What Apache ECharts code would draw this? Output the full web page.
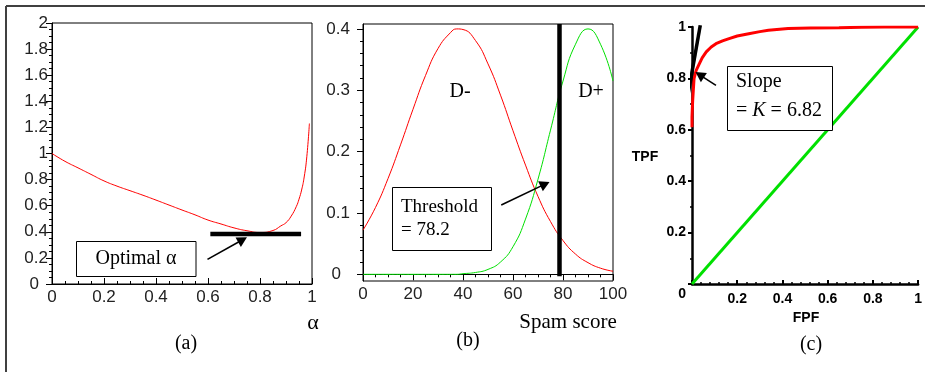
<!DOCTYPE html>
<html>
<head>
<meta charset="utf-8">
<script src="https://cdn.jsdelivr.net/npm/echarts@6/dist/echarts.min.js"></script>
<style>
  html, body { margin: 0; padding: 0; background: #fff; }
  #chart { width: 925px; height: 372px; }
</style>
</head>
<body>
<div id="chart"></div>
<script>
// panel (a): objective vs alpha
const alphaX = [0, 0.05, 0.1, 0.15, 0.2, 0.25, 0.3, 0.35, 0.4, 0.45, 0.5, 0.55, 0.6, 0.65, 0.7, 0.75, 0.8, 0.85, 0.88, 0.9, 0.92, 0.94, 0.95, 0.96, 0.97, 0.98, 0.99];
const alphaY = [1.0, 0.94, 0.89, 0.84, 0.79, 0.75, 0.715, 0.68, 0.643, 0.605, 0.567, 0.53, 0.49, 0.46, 0.43, 0.408, 0.395, 0.41, 0.445, 0.47, 0.52, 0.595, 0.65, 0.72, 0.82, 0.975, 1.23];
const optimalBar = [[0.609, 0.383], [0.958, 0.383]];
const optimalArrow = [[0.598, 0.189], [0.733, 0.339]];

// panel (b): score distributions
const scoreX = [0, 5, 10, 15, 20, 25, 30, 35, 37.5, 40, 45, 50, 55, 60, 65, 70, 75, 80, 85, 90, 95, 100];
const negY = [0.072, 0.109, 0.156, 0.211, 0.269, 0.324, 0.368, 0.394, 0.4, 0.399, 0.381, 0.343, 0.292, 0.234, 0.178, 0.127, 0.086, 0.055, 0.033, 0.019, 0.010, 0.005];
const posY = [0, 0, 0, 0, 0, 0, 0, 0, 0, 0.001, 0.003, 0.008, 0.02, 0.045, 0.09, 0.155, 0.235, 0.315, 0.375, 0.4, 0.375, 0.315];
const thresholdLine = [[78.6, -0.003], [78.6, 0.408]];
const thresholdArrow = [[55.3, 0.113], [72.8, 0.147]];
const bTicks = [0, 0.1, 0.2, 0.3, 0.4];
const bMinorTicks = [0.02, 0.04, 0.06, 0.08, 0.12, 0.14, 0.16, 0.18, 0.22, 0.24, 0.26, 0.28, 0.32, 0.34, 0.36, 0.38];

// panel (c): ROC
const rocX = [0, 0, 0.003, 0.009, 0.018, 0.029, 0.045, 0.063, 0.085, 0.106, 0.135, 0.164, 0.2, 0.251, 0.3, 0.338, 0.425, 0.525, 0.65, 0.75, 0.85, 1.0];
const rocY = [0.61, 0.65, 0.714, 0.799, 0.83, 0.851, 0.88, 0.903, 0.922, 0.935, 0.946, 0.955, 0.965, 0.974, 0.982, 0.987, 0.994, 0.996, 0.997, 0.999, 1.0, 1.0];
const chanceLine = [[0, 0], [1, 1]];
const tangentLine = [[-0.0274, 0.688], [0.0366, 1.007]];
const slopeArrow = [[0.106, 0.773], [0.034, 0.814]];

const pairs = (xs, ys) => xs.map((x, i) => [x, ys[i]]);

const sansLabel = { fontFamily: 'Liberation Sans, Arial, sans-serif', fontSize: 17, color: '#222' };
const serif = 'Liberation Serif, Times New Roman, serif';
const boldLabel = { fontFamily: 'Liberation Sans, Arial, sans-serif', fontSize: 14, fontWeight: 'bold', color: '#000' };
const zeroRich = { z: { fontFamily: 'Liberation Sans, Arial, sans-serif', fontSize: 17, color: '#222', padding: [0, 9, 0, 0] } };

function arrowMark(seg) {
  return {
    silent: true,
    symbol: ['none', 'triangle'],
    symbolSize: [11, 10],
    label: { show: false },
    lineStyle: { color: '#000', width: 1.6, type: 'solid' },
    data: [[{ coord: seg[0] }, { coord: seg[1] }]]
  };
}

const chart = echarts.init(document.getElementById('chart'));

chart.setOption({
  animation: false,
  backgroundColor: '#fff',
  grid: [
    { left: 52, top: 23, width: 260, height: 261, show: true, borderColor: '#000', borderWidth: 1, backgroundColor: 'transparent' },
    { left: 363, top: 24, width: 250, height: 257, show: true, borderColor: '#000', borderWidth: 1, backgroundColor: 'transparent' },
    { left: 692, top: 27, width: 230, height: 257 }
  ],
  xAxis: [
    {
      gridIndex: 0, type: 'value', min: 0, max: 1, interval: 0.2,
      axisLine: { show: true, lineStyle: { color: '#000', width: 1 } },
      axisTick: { show: true, inside: true, length: 6, lineStyle: { color: '#000' } },
      minorTick: { show: true, splitNumber: 4, length: 3, lineStyle: { color: '#000' } },
      splitLine: { show: false },
      axisLabel: Object.assign({ margin: 5 }, sansLabel)
    },
    {
      gridIndex: 1, type: 'value', min: 0, max: 100, interval: 20,
      axisLine: { show: true, lineStyle: { color: '#000', width: 1 } },
      axisTick: { show: true, length: 6, lineStyle: { color: '#000' } },
      minorTick: { show: true, splitNumber: 4, length: 3, lineStyle: { color: '#000' } },
      splitLine: { show: false },
      axisLabel: Object.assign({ margin: 5 }, sansLabel)
    },
    {
      gridIndex: 2, type: 'value', min: 0, max: 1, interval: 0.2,
      axisLine: { show: true, lineStyle: { color: '#000', width: 2.5 } },
      axisTick: { show: true, inside: true, length: 4, lineStyle: { color: '#000', width: 2 } },
      minorTick: { show: true, splitNumber: 5, length: 2, lineStyle: { color: '#000', width: 1.5 } },
      splitLine: { show: false },
      axisLabel: Object.assign({ margin: 8, formatter: v => (v === 0 ? '' : String(v)) }, boldLabel)
    }
  ],
  yAxis: [
    {
      gridIndex: 0, type: 'value', min: 0, max: 2, interval: 0.2,
      axisLine: { show: true, lineStyle: { color: '#000', width: 1 } },
      axisTick: { show: true, length: 6, lineStyle: { color: '#000' } },
      minorTick: { show: true, splitNumber: 4, length: 3, lineStyle: { color: '#000' } },
      splitLine: { show: false },
      axisLabel: Object.assign({ margin: 4, rich: zeroRich, formatter: v => (v === 0 ? '{z|0}' : String(+v.toFixed(1))) }, sansLabel)
    },
    {
      gridIndex: 1, type: 'value', min: -0.0109, max: 0.408,
      axisLine: { show: true, lineStyle: { color: '#000', width: 1 } },
      axisTick: { show: true, length: 6, customValues: bTicks, lineStyle: { color: '#000' } },
      splitLine: { show: false },
      axisLabel: Object.assign({ margin: 13, customValues: bTicks, rich: zeroRich, formatter: v => (v === 0 ? '{z|0}' : String(v)) }, sansLabel)
    },
    {
      gridIndex: 1, type: 'value', min: -0.0109, max: 0.408, position: 'left', offset: 0,
      axisLine: { show: false },
      axisTick: { show: true, length: 3, customValues: bMinorTicks, lineStyle: { color: '#000' } },
      axisLabel: { show: false },
      splitLine: { show: false }
    },
    {
      gridIndex: 2, type: 'value', min: 0, max: 1, interval: 0.2,
      axisLine: { show: true, lineStyle: { color: '#000', width: 2.5 } },
      axisTick: { show: true, length: 4, lineStyle: { color: '#000', width: 2 } },
      minorTick: { show: true, splitNumber: 2, length: 2, lineStyle: { color: '#000', width: 1.5 } },
      splitLine: { show: false },
      axisLabel: Object.assign({
        margin: 6,
        rich: { z: { fontFamily: 'Liberation Sans, Arial, sans-serif', fontSize: 14, fontWeight: 'bold', color: '#000', padding: [20, 0, 0, 0] } },
        formatter: v => (v === 0 ? '{z|0}' : String(+v.toFixed(1)))
      }, boldLabel)
    }
  ],
  series: [
    {
      type: 'line', xAxisIndex: 0, yAxisIndex: 0, data: pairs(alphaX, alphaY),
      smooth: true, symbol: 'none', lineStyle: { color: '#ff0000', width: 1 }
    },
    {
      type: 'line', xAxisIndex: 0, yAxisIndex: 0, data: optimalBar,
      symbol: 'none', lineStyle: { color: '#000', width: 4.5 },
      markLine: arrowMark(optimalArrow)
    },
    {
      type: 'line', xAxisIndex: 1, yAxisIndex: 1, data: pairs(scoreX, negY),
      smooth: true, symbol: 'none', lineStyle: { color: '#ff0000', width: 1 }
    },
    {
      type: 'line', xAxisIndex: 1, yAxisIndex: 1, data: pairs(scoreX, posY),
      smooth: true, symbol: 'none', lineStyle: { color: '#00e000', width: 1 }
    },
    {
      type: 'line', xAxisIndex: 1, yAxisIndex: 1, data: thresholdLine,
      symbol: 'none', lineStyle: { color: '#000', width: 4.5 },
      markLine: arrowMark(thresholdArrow)
    },
    {
      type: 'line', xAxisIndex: 2, yAxisIndex: 3, data: chanceLine,
      symbol: 'none', lineStyle: { color: '#00e000', width: 3 }
    },
    {
      type: 'line', xAxisIndex: 2, yAxisIndex: 3, data: pairs(rocX, rocY),
      symbol: 'none', lineStyle: { color: '#ff0000', width: 3 }
    },
    {
      type: 'line', xAxisIndex: 2, yAxisIndex: 3, data: tangentLine, clip: false,
      symbol: 'none', lineStyle: { color: '#000', width: 3.5 },
      markLine: arrowMark(slopeArrow)
    }
  ],
  graphic: [
    // outer frame (left and top edges visible)
    { type: 'line', shape: { x1: 6, y1: 6, x2: 6, y2: 372 }, style: { stroke: '#404040', lineWidth: 2 } },
    { type: 'line', shape: { x1: 6, y1: 6, x2: 925, y2: 6 }, style: { stroke: '#404040', lineWidth: 2 } },

    // panel (a)
    { type: 'rect', shape: { x: 76.5, y: 241.5, width: 119.5, height: 35 }, style: { fill: '#fff', stroke: '#000', lineWidth: 1 }, z: 10 },
    { type: 'text', x: 136, y: 259, z: 11, style: { text: 'Optimal α', fontFamily: serif, fontSize: 20, fill: '#000', align: 'center', verticalAlign: 'middle' } },
    { type: 'text', x: 313, y: 323, style: { text: 'α', fontFamily: serif, fontSize: 22, fill: '#000', align: 'center', verticalAlign: 'middle' } },
    { type: 'text', x: 186, y: 344, style: { text: '(a)', fontFamily: serif, fontSize: 20, fill: '#000', align: 'center', verticalAlign: 'middle' } },

    // panel (b)
    { type: 'text', x: 460, y: 92, style: { text: 'D-', fontFamily: serif, fontSize: 20, fill: '#000', align: 'center', verticalAlign: 'middle' } },
    { type: 'text', x: 591, y: 92, style: { text: 'D+', fontFamily: serif, fontSize: 20, fill: '#000', align: 'center', verticalAlign: 'middle' } },
    { type: 'rect', shape: { x: 392.5, y: 187.5, width: 99, height: 63 }, style: { fill: '#fff', stroke: '#000', lineWidth: 1 }, z: 10 },
    { type: 'text', x: 401, y: 207, z: 11, style: { text: 'Threshold', fontFamily: serif, fontSize: 19, fill: '#000', align: 'left', verticalAlign: 'middle' } },
    { type: 'text', x: 401, y: 230, z: 11, style: { text: '= 78.2', fontFamily: serif, fontSize: 19, fill: '#000', align: 'left', verticalAlign: 'middle' } },
    { type: 'text', x: 568, y: 322, style: { text: 'Spam score', fontFamily: serif, fontSize: 21, fill: '#000', align: 'center', verticalAlign: 'middle' } },
    { type: 'text', x: 468, y: 341, style: { text: '(b)', fontFamily: serif, fontSize: 20, fill: '#000', align: 'center', verticalAlign: 'middle' } },

    // panel (c)
    { type: 'rect', shape: { x: 727.5, y: 66.5, width: 105, height: 64 }, style: { fill: '#fff', stroke: '#000', lineWidth: 1 }, z: 10 },
    { type: 'text', x: 736, y: 82, z: 11, style: { text: 'Slope', fontFamily: serif, fontSize: 20, fill: '#000', align: 'left', verticalAlign: 'middle' } },
    {
      type: 'text', x: 736, y: 111, z: 11,
      style: {
        text: '= {i|K} = 6.82', fontFamily: serif, fontSize: 20, fill: '#000', align: 'left', verticalAlign: 'middle',
        rich: { i: { fontFamily: serif, fontSize: 20, fontStyle: 'italic', fill: '#000' } }
      }
    },
    { type: 'text', x: 645, y: 157, style: { text: 'TPF', fontFamily: 'Liberation Sans Narrow, Liberation Sans, sans-serif', fontSize: 14, fontWeight: 'bold', fill: '#000', align: 'center', verticalAlign: 'middle' } },
    { type: 'text', x: 806, y: 318, style: { text: 'FPF', fontFamily: 'Liberation Sans Narrow, Liberation Sans, sans-serif', fontSize: 14, fontWeight: 'bold', fill: '#000', align: 'center', verticalAlign: 'middle' } },
    { type: 'text', x: 811, y: 345, style: { text: '(c)', fontFamily: serif, fontSize: 20, fill: '#000', align: 'center', verticalAlign: 'middle' } }
  ]
});

window.addEventListener('resize', () => chart.resize());
</script>
</body>
</html>
